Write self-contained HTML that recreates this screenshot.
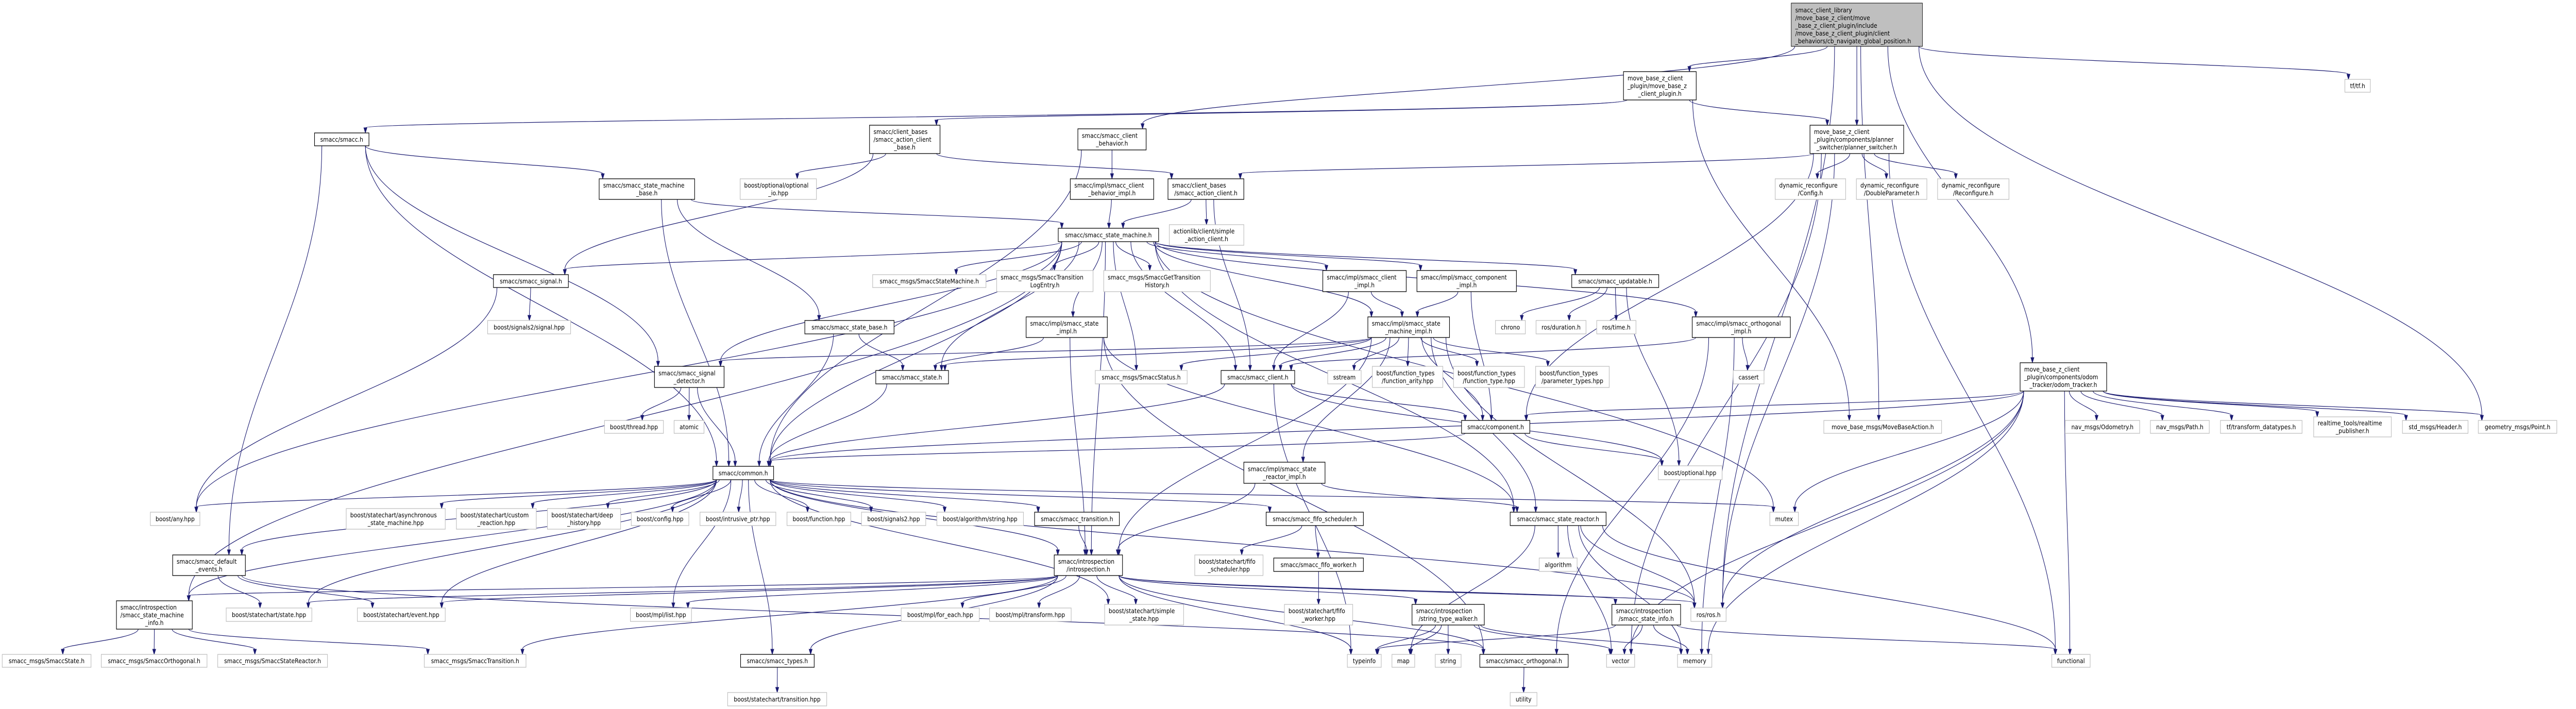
<!DOCTYPE html>
<html><head><meta charset="utf-8">
<style>
html,body{margin:0;padding:0;background:#fff;overflow:hidden;width:100%;height:100%;}
svg{display:block;width:100vw;height:100vh;}
text{font-family:"DejaVu Sans","Liberation Sans",sans-serif;font-size:12.5px;fill:#000;}
</style></head>
<body>
<svg id="g" xmlns="http://www.w3.org/2000/svg" viewBox="0 0 5774 1376" preserveAspectRatio="none">
<rect width="5774" height="1376" fill="#fff"/>
<g id="edges" fill="none" stroke="#191970" stroke-width="1.2"></g>
<g id="heads" fill="#191970" stroke="#191970"></g>
<g id="nodes">
<g id="n_root"><rect x="4015" y="6" width="294" height="84" fill="#bfbfbf" stroke="#000"/><text x="4024" y="24">smacc_client_library</text><text x="4024" y="39">/move_base_z_client/move</text><text x="4024" y="54">_base_z_client_plugin/include</text><text x="4024" y="69">/move_base_z_client_plugin/client</text><text x="4024" y="84">_behaviors/cb_navigate_global_position.h</text></g>
</g>
</svg>
<script>
var N={
mbp:[3639,139,3802,194,["move_base_z_client","_plugin/move_base_z","_client_plugin.h"],1],
ps:[4057,243,4267,298,["move_base_z_client","_plugin/components/planner","_switcher/planner_switcher.h"],1],
cfg:[3979,347,4137,387,["dynamic_reconfigure","/Config.h"],0],
dbl:[4161,347,4319,387,["dynamic_reconfigure","/DoubleParameter.h"],0],
rcf:[4343,347,4503,387,["dynamic_reconfigure","/Reconfigure.h"],0],
tf:[5256,154,5313,179,["tf/tf.h"],0],
smacc:[705,258,827,283,["smacc/smacc.h"],1],
acb:[1949,243,2107,298,["smacc/client_bases","/smacc_action_client","_base.h"],1],
cb:[2416,250,2569,291,["smacc/smacc_client","_behavior.h"],1],
smb:[1343,347,1557,387,["smacc/smacc_state_machine","_base.h"],1],
oio:[1659,347,1830,387,["boost/optional/optional","_io.hpp"],0],
cbi:[2399,347,2586,387,["smacc/impl/smacc_client","_behavior_impl.h"],1],
ac:[2618,347,2788,387,["smacc/client_bases","/smacc_action_client.h"],1],
sm:[2372,443,2597,469,["smacc/smacc_state_machine.h"],1],
sac:[2621,436,2788,476,["actionlib/client/simple","_action_client.h"],0],
sig:[1106,533,1274,558,["smacc/smacc_signal.h"],1],
ssm:[1956,533,2210,558,["smacc_msgs/SmaccStateMachine.h"],0],
tle:[2234,525,2450,566,["smacc_msgs/SmaccTransition","LogEntry.h"],0],
gth:[2474,525,2713,566,["smacc_msgs/SmaccGetTransition","History.h"],0],
cli:[2965,525,3152,566,["smacc/impl/smacc_client","_impl.h"],1],
cpi:[3176,525,3399,566,["smacc/impl/smacc_component","_impl.h"],1],
upd:[3523,533,3718,558,["smacc/smacc_updatable.h"],1],
s2s:[1093,622,1279,648,["boost/signals2/signal.hpp"],0],
sb:[1804,622,2004,648,["smacc/smacc_state_base.h"],1],
si:[2300,615,2482,655,["smacc/impl/smacc_state","_impl.h"],1],
smi:[3066,615,3249,655,["smacc/impl/smacc_state","_machine_impl.h"],1],
chr:[3352,622,3419,648,["chrono"],0],
dur:[3443,622,3555,648,["ros/duration.h"],0],
tim:[3579,622,3667,648,["ros/time.h"],0],
ori:[3793,615,4013,655,["smacc/impl/smacc_orthogonal","_impl.h"],1],
odo:[4528,704,4722,759,["move_base_z_client","_plugin/components/odom","_tracker/odom_tracker.h"],1],
sd:[1467,711,1623,752,["smacc/smacc_signal","_detector.h"],1],
st:[1963,719,2126,745,["smacc/smacc_state.h"],1],
sts:[2455,719,2661,745,["smacc_msgs/SmaccStatus.h"],0],
cl:[2737,719,2902,745,["smacc/smacc_client.h"],1],
sss:[2976,719,3051,745,["sstream"],0],
fa:[3076,711,3234,752,["boost/function_types","/function_arity.hpp"],0],
ft:[3258,711,3417,752,["boost/function_types","/function_type.hpp"],0],
pt:[3442,711,3607,752,["boost/function_types","/parameter_types.hpp"],0],
cas:[3885,719,3954,745,["cassert"],0],
thr:[1355,816,1487,841,["boost/thread.hpp"],0],
atm:[1511,816,1578,841,["atomic"],0],
cmp:[3276,816,3429,841,["smacc/component.h"],1],
mba:[4088,816,4352,841,["move_base_msgs/MoveBaseAction.h"],0],
nod:[4629,816,4796,841,["nav_msgs/Odometry.h"],0],
pth:[4820,816,4952,841,["nav_msgs/Path.h"],0],
tfd:[4977,816,5160,841,["tf/transform_datatypes.h"],0],
rtp:[5186,809,5360,848,["realtime_tools/realtime","_publisher.h"],0],
hdr:[5385,816,5532,841,["std_msgs/Header.h"],0],
pnt:[5555,816,5731,841,["geometry_msgs/Point.h"],0],
com:[1598,905,1734,931,["smacc/common.h"],1],
sri:[2788,897,2970,938,["smacc/impl/smacc_state","_reactor_impl.h"],1],
opt:[3717,904,3860,931,["boost/optional.hpp"],0],
any:[337,994,448,1020,["boost/any.hpp"],0],
asm:[776,987,998,1027,["boost/statechart/asynchronous","_state_machine.hpp"],0],
cr:[1023,987,1202,1027,["boost/statechart/custom","_reaction.hpp"],0],
dh:[1227,987,1391,1027,["boost/statechart/deep","_history.hpp"],0],
cfg2:[1415,994,1544,1020,["boost/config.hpp"],0],
ip:[1569,994,1739,1020,["boost/intrusive_ptr.hpp"],0],
fn:[1764,994,1907,1020,["boost/function.hpp"],0],
s2:[1931,994,2075,1020,["boost/signals2.hpp"],0],
str:[2100,994,2294,1020,["boost/algorithm/string.hpp"],0],
tr:[2319,994,2509,1020,["smacc/smacc_transition.h"],1],
fs:[2838,994,3056,1020,["smacc/smacc_fifo_scheduler.h"],1],
sr:[3385,994,3600,1020,["smacc/smacc_state_reactor.h"],1],
mtx:[3967,994,4031,1020,["mutex"],0],
de:[387,1077,550,1117,["smacc/smacc_default","_events.h"],1],
ins:[2363,1077,2516,1117,["smacc/introspection","/introspection.h"],1],
fsh:[2678,1077,2831,1117,["boost/statechart/fifo","_scheduler.hpp"],0],
fw:[2855,1083,3056,1109,["smacc/smacc_fifo_worker.h"],1],
alg:[3450,1083,3535,1109,["algorithm"],0],
smf:[261,1166,431,1221,["smacc/introspection","/smacc_state_machine","_info.h"],1],
sth:[507,1180,699,1206,["boost/statechart/state.hpp"],0],
evh:[801,1180,998,1206,["boost/statechart/event.hpp"],0],
lst:[1413,1180,1550,1206,["boost/mpl/list.hpp"],0],
fe:[2020,1180,2195,1206,["boost/mpl/for_each.hpp"],0],
tfm:[2218,1180,2401,1206,["boost/mpl/transform.hpp"],0],
ss:[2476,1173,2653,1213,["boost/statechart/simple","_state.hpp"],0],
fwh:[2879,1173,3032,1213,["boost/statechart/fifo","_worker.hpp"],0],
stw:[3165,1173,3327,1213,["smacc/introspection","/string_type_walker.h"],1],
sti:[3613,1173,3767,1213,["smacc/introspection","/smacc_state_info.h"],1],
ros:[3790,1180,3869,1206,["ros/ros.h"],0],
mss:[5,1270,204,1295,["smacc_msgs/SmaccState.h"],0],
mso:[227,1270,464,1295,["smacc_msgs/SmaccOrthogonal.h"],0],
msr:[488,1270,734,1295,["smacc_msgs/SmaccStateReactor.h"],0],
mst:[951,1270,1179,1295,["smacc_msgs/SmaccTransition.h"],0],
typ:[1660,1270,1825,1295,["smacc/smacc_types.h"],1],
tid:[3020,1270,3096,1295,["typeinfo"],0],
map:[3120,1270,3171,1295,["map"],0],
sng:[3217,1270,3275,1295,["string"],0],
orth:[3317,1270,3515,1295,["smacc/smacc_orthogonal.h"],1],
vec:[3601,1270,3664,1295,["vector"],0],
mem:[3760,1270,3837,1295,["memory"],0],
fun:[4599,1270,4685,1295,["functional"],0],
tph:[1631,1344,1853,1370,["boost/statechart/transition.hpp"],0],
uti:[3385,1344,3445,1370,["utility"],0]
};
N.root=[4015,6,4309,90,[],2];
var E={
root:["mbp","ps","cb","tf","odo","pnt","mba","ros"],
mbp:["smacc","acb","ps","mba"],
ps:["cfg","dbl","rcf","ac","cmp","fun","ros","vec"],
smacc:["smb","de","com","sd"],
smb:["sm","sb","com"],
acb:["oio","ac","sig"],
cb:["cbi","com"],
cbi:["sm"],
ac:["sm","sac","cl"],
sm:["ssm","tle","gth","si","sig","com","sd","cli","cpi","upd","ori","smi","sr","st","sts","any","mtx","ins","cl","smf"],
sb:["st","com"],
si:["st","ins","sr","orth"],
cli:["smi","cl"],
cpi:["smi","cmp"],
upd:["chr","dur","tim","opt"],
ori:["cas","orth","cl","mem"],
smi:["sd","st","sts","cl","sss","fa","ft","pt","cmp","ins","sr","sri","ros"],
sig:["s2s","any"],
sd:["thr","atm","com"],
st:["com"],
cl:["com","cmp","tid","opt"],
cmp:["opt","com"],
odo:["nod","pth","tfd","rtp","hdr","pnt","fun","ros","mtx","mem","vec","cmp","com"],
com:["any","asm","cr","dh","cfg2","ip","fn","s2","str","tr","fs","ins","sth","evh","de","mtx","ros","typ","smf","lst","ss"],
tr:["ins"],
fs:["fsh","fw"],
fw:["fwh"],
sri:["ins","sr"],
sr:["alg","map","vec","mem","ros","fun"],
de:["sth","evh","orth"],
ins:["lst","fe","tfm","ss","sth","evh","typ","smf","stw","sti","ros","tid","orth","mst"],
smf:["mss","mso","msr","mst"],
stw:["tid","map","sng","vec","mem"],
sti:["vec","mem","fun","tid"],
typ:["tph"],
orth:["uti"]
};
var NS="http://www.w3.org/2000/svg";
function el(t,a,p){var e=document.createElementNS(NS,t);for(var k in a)e.setAttribute(k,a[k]);p.appendChild(e);return e;}
var nodesG=document.getElementById("nodes"),edgesG=document.getElementById("edges"),headsG=document.getElementById("heads");
for(var id in N){var n=N[id];if(n[5]==2)continue;
 var g=el("g",{},nodesG);
 el("rect",{x:n[0],y:n[1],width:n[2]-n[0],height:n[3]-n[1],fill:"#fff",stroke:n[5]?"#000":"#bfbfbf","stroke-width":1.3},g);
 var L=n[4],h=n[3]-n[1],y0=n[1]+h/2-(L.length-1)*7.5+4.5;
 for(var i=0;i<L.length;i++){
  var t;
  if(i<L.length-1) t=el("text",{x:n[0]+9,y:y0+i*15},g);
  else t=el("text",{x:(n[0]+n[2])/2,y:y0+i*15,"text-anchor":"middle"},g);
  t.textContent=L[i];
 }
}
function head(x,y,ux,uy){var l=10,w=3.5;var bx=x-ux*l,by=y-uy*l;
 el("polygon",{points:x+","+y+" "+(bx-uy*w)+","+(by+ux*w)+" "+(bx+uy*w)+","+(by-ux*w)},headsG);}
for(var s in E){var a=N[s];E[s].forEach(function(tid,k){var b=N[tid];if(!b)return;
 var acx=(a[0]+a[2])/2,bcx=(b[0]+b[2])/2;
 var sx,sy,tx,ty,d;
 if(b[1]>a[3]+4){
  sx=Math.max(a[0]+8,Math.min(a[2]-8,acx+(bcx-acx)*0.15));sy=a[3];
  tx=Math.max(b[0]+8,Math.min(b[2]-8,bcx+(acx-bcx)*0.15));ty=b[1];
  var dy=ty-sy;
  d="M"+sx+","+sy+" C"+sx+","+(sy+dy*0.4)+" "+tx+","+(ty-dy*0.4)+" "+tx+","+(ty-10);
  el("path",{d:d},edgesG);head(tx,ty,0,1);
 } else if(b[3]<a[1]-4){
  sx=acx;sy=a[1];tx=bcx;ty=b[3];var dy2=sy-ty;
  d="M"+sx+","+sy+" C"+sx+","+(sy-dy2*0.4)+" "+tx+","+(ty+dy2*0.4)+" "+tx+","+(ty+10);
  el("path",{d:d},edgesG);head(tx,ty,0,-1);
 } else {
  var right=bcx>acx;sx=right?a[2]:a[0];sy=(a[1]+a[3])/2;tx=right?b[0]:b[2];ty=(b[1]+b[3])/2;
  var dir=right?1:-1;
  d="M"+sx+","+sy+" C"+(sx+dir*40)+","+sy+" "+(tx-dir*40)+","+ty+" "+(tx-dir*10)+","+ty;
  el("path",{d:d},edgesG);head(tx,ty,dir,0);
 }
});}
</script>
</body></html>
